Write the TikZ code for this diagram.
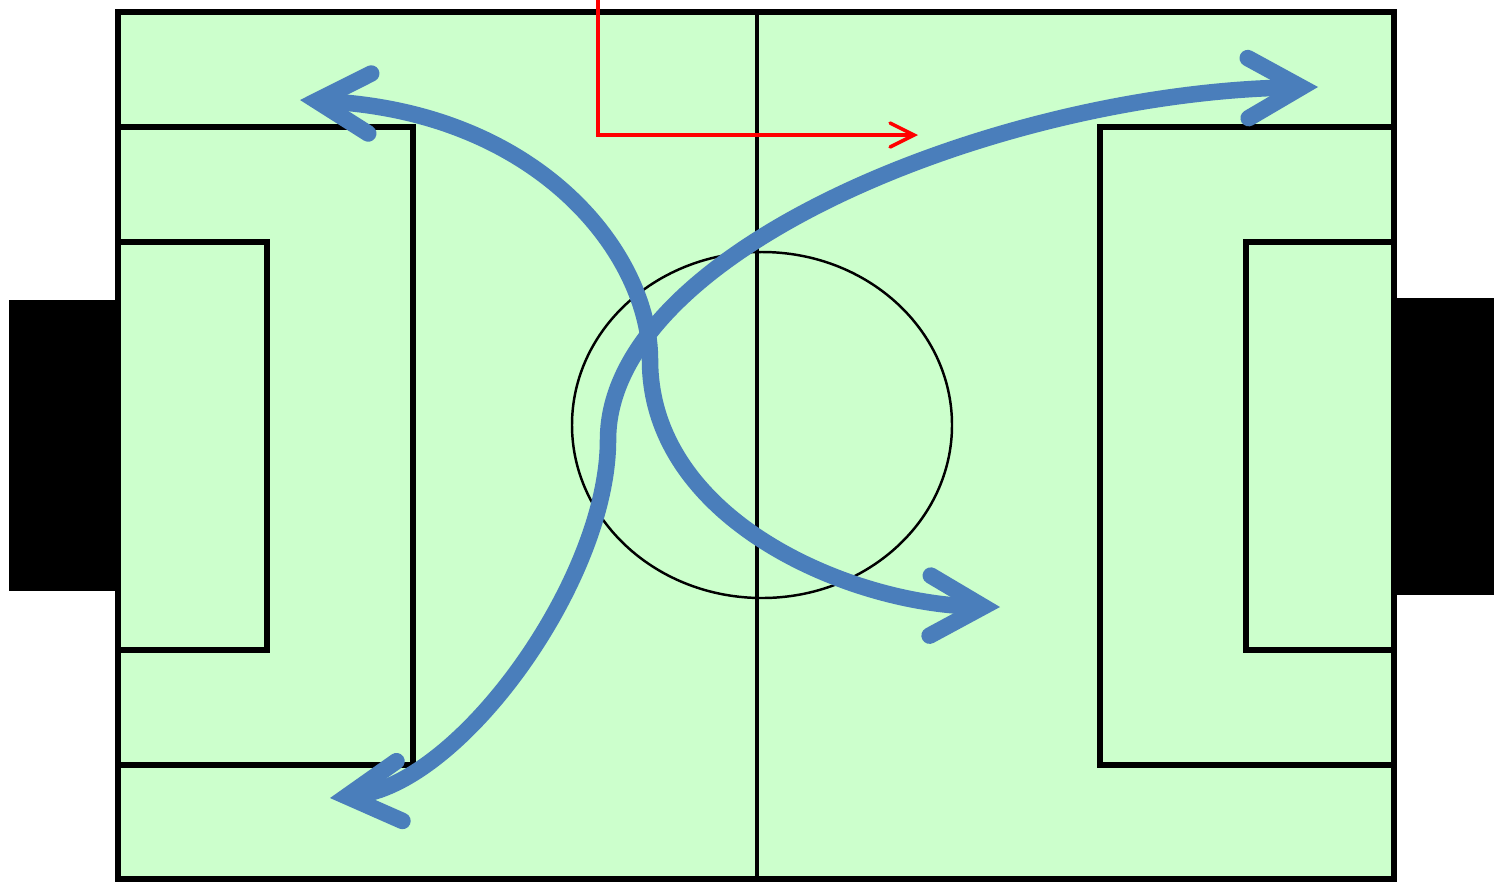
\documentclass[tikz,border=0pt]{standalone}
\usepackage{tikz}
\usetikzlibrary{arrows.meta,calc}
\definecolor{pitchgreen}{HTML}{CCFFCC}
\definecolor{runblue}{HTML}{4A7EBB}
\definecolor{passred}{HTML}{FF0000}

\begin{document}
\begin{tikzpicture}[x=0.01cm, y=-0.01cm]
    \useasboundingbox (0,0) rectangle (1494,881);

    % Goals
    \fill[black] (9,300) rectangle (120,591);
    \fill[black] (1392,298) rectangle (1494,595);

    % Pitch
    \filldraw[draw=black, fill=pitchgreen, line width=1.7pt] (118,12) rectangle (1394,879);
    \draw[line width=1.7pt] (118,127) -- (413,127) -- (413,765) -- (118,765);
    \draw[line width=1.7pt] (118,242) -- (267,242) -- (267,650) -- (118,650);
    \draw[line width=1.7pt] (1394,127) -- (1100,127) -- (1100,765) -- (1394,765);
    \draw[line width=1.7pt] (1394,242) -- (1246,242) -- (1246,650) -- (1394,650);
    \draw[line width=1pt] (757,12) -- (757,879);
    \draw[line width=0.7pt] (762,425) ellipse [x radius=190, y radius=173];

    % Pass
    \coordinate (r0) at (598,0);
    \coordinate (r1) at (598,135);
    \coordinate (r2) at (918,135);
    \draw[passred, line width=1pt, -{Straight Barb[length=2.4mm, width=2.4mm, line cap=round]}] (r0) -- (r1) -- (r2);

    % Runs
    \coordinate (a0) at (300,100);
    \coordinate (a1) at (650,360);
    \coordinate (a2) at (1000,607);
    \coordinate (b0) at (330,798);
    \coordinate (b1) at (608,440);
    \coordinate (b2) at (1318,87);
    \draw[runblue, line width=4.7pt, {Straight Barb[length=5.3mm, width=6mm, line cap=round]}-{Straight Barb[length=5.3mm, width=6mm, line cap=round]}]
        (a0) .. controls (540,112) and (650,255) .. (a1) .. controls (650,520) and (850,604) .. (a2);
    \draw[runblue, line width=4.7pt, {Straight Barb[length=5.3mm, width=6mm, line cap=round]}-{Straight Barb[length=5.3mm, width=6mm, line cap=round]}]
        (b0) .. controls (460,785) and (608,580) .. (b1) .. controls (608,250) and (1000,92) .. (b2);
\end{tikzpicture}
\end{document}
